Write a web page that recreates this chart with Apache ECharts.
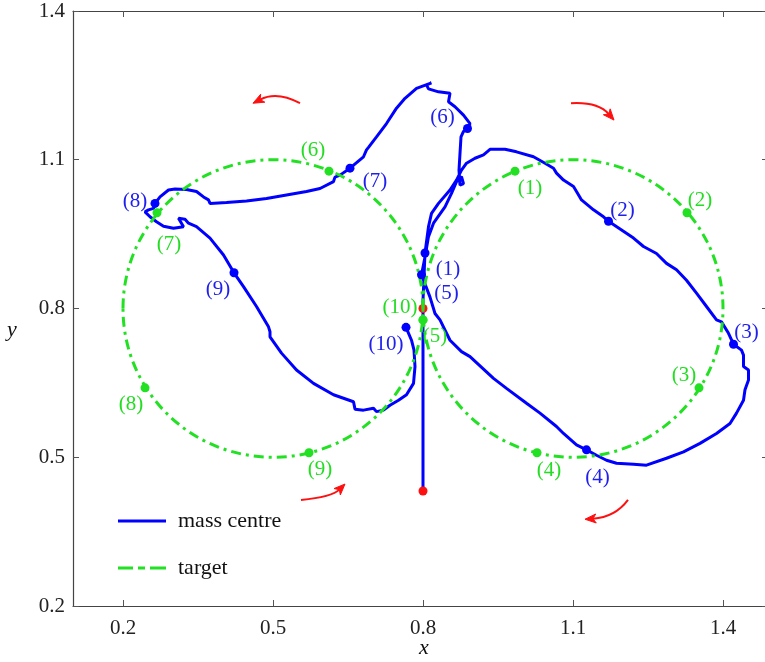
<!DOCTYPE html>
<html>
<head>
<meta charset="utf-8">
<script src="https://cdn.jsdelivr.net/npm/echarts@6/dist/echarts.min.js"></script>
<style>html,body{margin:0;padding:0;background:#fff}#c{width:765px;height:662px}</style>
</head>
<body>
<div id="c"></div>
<script>
const xTicks = [0.2, 0.5, 0.8, 1.1, 1.4];
const yTicks = [0.2, 0.5, 0.8, 1.1, 1.4];

// mass centre trajectory (x, y)
const massCentre = [
  [0.800,0.432],[0.800,0.615],[0.800,0.817],[0.804,0.912],[0.811,0.965],[0.817,0.992],[0.831,1.012],
  [0.854,1.039],[0.867,1.059],[0.877,1.079],[0.887,1.093],[0.904,1.103],[0.921,1.110],[0.934,1.121],
  [0.964,1.121],[0.987,1.116],[1.021,1.106],[1.044,1.093],[1.061,1.083],[1.067,1.073],[1.081,1.059],
  [1.101,1.046],[1.107,1.036],[1.117,1.019],[1.141,0.999],[1.161,0.985],[1.171,0.976],[1.221,0.942],
  [1.241,0.925],[1.267,0.911],[1.287,0.891],[1.307,0.878],[1.327,0.857],[1.347,0.831],[1.367,0.804],
  [1.387,0.777],[1.397,0.773],[1.411,0.750],[1.421,0.728],[1.437,0.716],[1.441,0.706],[1.441,0.683],
  [1.451,0.676],[1.451,0.656],[1.444,0.636],[1.441,0.615],[1.427,0.589],[1.414,0.568],[1.387,0.548],
  [1.354,0.528],[1.321,0.511],[1.287,0.498],[1.247,0.484],[1.221,0.486],[1.187,0.488],[1.167,0.494],
  [1.147,0.504],[1.127,0.515],[1.107,0.525],[1.081,0.548],[1.067,0.562],[1.034,0.589],[1.007,0.609],
  [0.967,0.639],[0.941,0.659],[0.894,0.703],[0.877,0.713],[0.854,0.736],[0.834,0.777],[0.824,0.790],
  [0.814,0.823],[0.797,0.868],
  [0.804,0.904],[0.811,0.945],[0.821,0.972],[0.844,1.005],[0.857,1.032],[0.867,1.056],[0.877,1.066],
  [0.881,1.052],[0.874,1.049],[0.872,1.079],[0.874,1.113],[0.876,1.146],[0.881,1.157],[0.889,1.163],
  [0.894,1.173],[0.881,1.190],[0.864,1.207],[0.851,1.217],[0.854,1.234],[0.831,1.237],[0.811,1.243],
  [0.807,1.251],[0.817,1.255],[0.787,1.244],[0.764,1.224],[0.747,1.204],[0.727,1.173],[0.707,1.146],
  [0.691,1.125],[0.687,1.120],[0.681,1.106],[0.654,1.083],
  [0.634,1.069],[0.624,1.065],[0.621,1.056],[0.594,1.042],[0.567,1.036],[0.527,1.029],[0.487,1.022],
  [0.447,1.017],[0.407,1.014],[0.374,1.012],[0.371,1.019],[0.361,1.025],[0.347,1.036],[0.327,1.040],
  [0.304,1.041],[0.291,1.039],[0.274,1.025],[0.264,1.012],
  [0.261,1.002],[0.251,0.999],[0.244,0.995],[0.254,0.985],[0.267,0.975],[0.281,0.966],[0.301,0.962],
  [0.321,0.965],[0.311,0.982],[0.324,0.980],[0.331,0.972],[0.347,0.965],[0.374,0.942],[0.401,0.908],
  [0.422,0.872],
  [0.441,0.844],[0.467,0.804],[0.491,0.763],[0.494,0.753],[0.494,0.743],[0.517,0.710],[0.547,0.676],
  [0.581,0.649],[0.621,0.626],[0.661,0.612],[0.664,0.597],[0.681,0.595],[0.701,0.599],[0.707,0.592],
  [0.721,0.595],[0.734,0.605],[0.751,0.615],[0.767,0.626],[0.781,0.649],[0.784,0.683],[0.782,0.716],
  [0.777,0.736],[0.766,0.762]
];

// target circles: centre x, centre y, radius
const targetCircles = [[0.5, 0.8, 0.3], [1.1, 0.8, 0.3]];

const markLabels = ['(1)','(2)','(3)','(4)','(5)','(6)','(7)','(8)','(9)','(10)'];
const blueMarks = [
  [0.804,0.912],[1.171,0.976],[1.421,0.728],[1.127,0.515],[0.797,0.868],
  [0.889,1.163],[0.654,1.083],[0.264,1.012],[0.422,0.872],[0.766,0.762]
];
const greenMarks = [
  [0.984,1.077],[1.328,0.993],[1.352,0.640],[1.028,0.509],[0.800,0.777],
  [0.612,1.077],[0.268,0.993],[0.244,0.640],[0.572,0.509],[0.800,0.777]
];
const startPoints = [[0.8, 0.432], [0.8, 0.8]];

// direction arrows: start x,y, control x,y, tip x,y
const arrows = [
  [0.554,1.214, 0.508,1.239, 0.460,1.214],
  [1.096,1.214, 1.150,1.217, 1.182,1.180],
  [0.556,0.414, 0.618,0.420, 0.644,0.446],
  [1.210,0.414, 1.184,0.379, 1.124,0.375]
];

// label placement (pixel offsets, styling only)
const blueLabelOffsets = [[23,17],[14,-11],[13,-12],[11,28],[25,19],[-25,-11],[25,13],[-20,-2],[-16,17],[-20,17]];
const greenLabelOffsets = [[15,17],[13,-12],[-15,-12],[12,18],[12,17],[-16,-21],[12,32],[-14,17],[11,17],[-23,-12]];

const BLUE = '#0000ff', GREEN = '#22e022', RED = '#ff1010';
const FONT = 'Liberation Serif';

function markData(points, offsets) {
  return points.map((p, i) => ({
    value: p,
    name: markLabels[i],
    label: { offset: offsets[i] }
  }));
}

const chart = echarts.init(document.getElementById('c'), null, { renderer: 'canvas' });

const axisCommon = {
  type: 'value',
  axisLine: { show: true, lineStyle: { color: '#444', width: 1.2 } },
  axisTick: { show: true, inside: true, length: 6, lineStyle: { color: '#555' } },
  splitLine: { show: false }
};

chart.setOption({
  animation: false,
  backgroundColor: '#fff',
  grid: { left: 73, top: 11, width: 695, height: 595, outerBoundsMode: 'none', containLabel: false },
  xAxis: [
    Object.assign({}, axisCommon, {
      min: 0.1, max: 1.49, position: 'bottom',
      axisTick: Object.assign({}, axisCommon.axisTick, { customValues: xTicks }),
      axisLabel: { customValues: xTicks, formatter: v => v.toFixed(1), margin: 12,
        fontFamily: FONT, fontSize: 21, color: '#222' }
    }),
    Object.assign({}, axisCommon, {
      min: 0.1, max: 1.49, position: 'top',
      axisTick: Object.assign({}, axisCommon.axisTick, { customValues: xTicks }),
      axisLabel: { show: false }
    })
  ],
  yAxis: [
    Object.assign({}, axisCommon, {
      min: 0.2, max: 1.4, position: 'left',
      axisTick: Object.assign({}, axisCommon.axisTick, { customValues: yTicks }),
      axisLabel: { customValues: yTicks, formatter: v => v.toFixed(1), margin: 8,
        fontFamily: FONT, fontSize: 21, color: '#222' }
    }),
    Object.assign({}, axisCommon, {
      min: 0.2, max: 1.4, position: 'right',
      axisTick: Object.assign({}, axisCommon.axisTick, { customValues: yTicks }),
      axisLabel: { show: false }
    })
  ],
  legend: {
    orient: 'vertical', left: 118, top: 509, padding: 0, itemGap: 23,
    itemWidth: 48, itemHeight: 3,
    selectedMode: false,
    textStyle: { fontFamily: FONT, fontSize: 22, color: '#111', lineHeight: 24, padding: [0,0,0,7] },
    data: [
      { name: 'mass centre', icon: 'path://M0,0H48V3H0Z' },
      { name: 'target', icon: 'path://M0,0H15V3H0Z M20,0H27V3H20Z M32,0H48V3H32Z' }
    ]
  },
  graphic: [
    { type: 'text', left: 419, top: 637, style: { text: 'x', font: 'italic 22px "Liberation Serif"', fill: '#111' } },
    { type: 'text', left: 7, top: 319, style: { text: 'y', font: 'italic 22px "Liberation Serif"', fill: '#111' } }
  ],
  series: [
    {
      name: 'mass centre', type: 'line', data: massCentre, symbol: 'none', showSymbol: false,
      lineStyle: { color: BLUE, width: 3 }, itemStyle: { color: BLUE }, z: 2, silent: true
    },
    {
      type: 'scatter', data: startPoints, symbolSize: 9, itemStyle: { color: RED, opacity: 1 }, z: 3, silent: true
    },
    {
      name: 'target', type: 'custom', data: targetCircles, clip: true, z: 4, silent: true,
      itemStyle: { color: GREEN },
      renderItem: function (params, api) {
        const c = api.coord([api.value(0), api.value(1)]);
        const s = api.size([api.value(2), api.value(2)]);
        return {
          type: 'ellipse',
          shape: { cx: c[0], cy: c[1], rx: s[0], ry: s[1] },
          style: { fill: 'none', stroke: GREEN, lineWidth: 3, lineDash: [10, 5, 3, 5] }
        };
      }
    },
    {
      type: 'scatter', data: markData(blueMarks, blueLabelOffsets), symbolSize: 9, z: 5, silent: true,
      itemStyle: { color: BLUE, opacity: 1 },
      label: { show: true, position: 'inside', formatter: p => p.name, fontFamily: FONT, fontSize: 21, color: '#2020ee' }
    },
    {
      type: 'scatter', data: markData(greenMarks, greenLabelOffsets), symbolSize: 9, z: 5, silent: true,
      itemStyle: { color: GREEN, opacity: 1 },
      label: { show: true, position: 'inside', formatter: p => p.name, fontFamily: FONT, fontSize: 21, color: '#22dd22' }
    },
    {
      type: 'custom', data: arrows, z: 6, silent: true,
      renderItem: function (params, api) {
        const p0 = api.coord([api.value(0), api.value(1)]);
        const c = api.coord([api.value(2), api.value(3)]);
        const p1 = api.coord([api.value(4), api.value(5)]);
        const ang = Math.atan2(p1[1] - c[1], p1[0] - c[0]);
        const L = 11, W = 4.5;
        const bx = p1[0] - L * Math.cos(ang), by = p1[1] - L * Math.sin(ang);
        const nx = -Math.sin(ang), ny = Math.cos(ang);
        return {
          type: 'group',
          children: [
            { type: 'bezierCurve',
              shape: { x1: p0[0], y1: p0[1], cpx1: c[0], cpy1: c[1], x2: bx + 3 * Math.cos(ang), y2: by + 3 * Math.sin(ang) },
              style: { fill: 'none', stroke: RED, lineWidth: 2 } },
            { type: 'polygon',
              shape: { points: [[p1[0], p1[1]], [bx + nx * W, by + ny * W], [bx + 3 * Math.cos(ang), by + 3 * Math.sin(ang)], [bx - nx * W, by - ny * W]] },
              style: { fill: RED, stroke: RED, lineWidth: 1 } }
          ]
        };
      }
    }
  ]
});
</script>
</body>
</html>
